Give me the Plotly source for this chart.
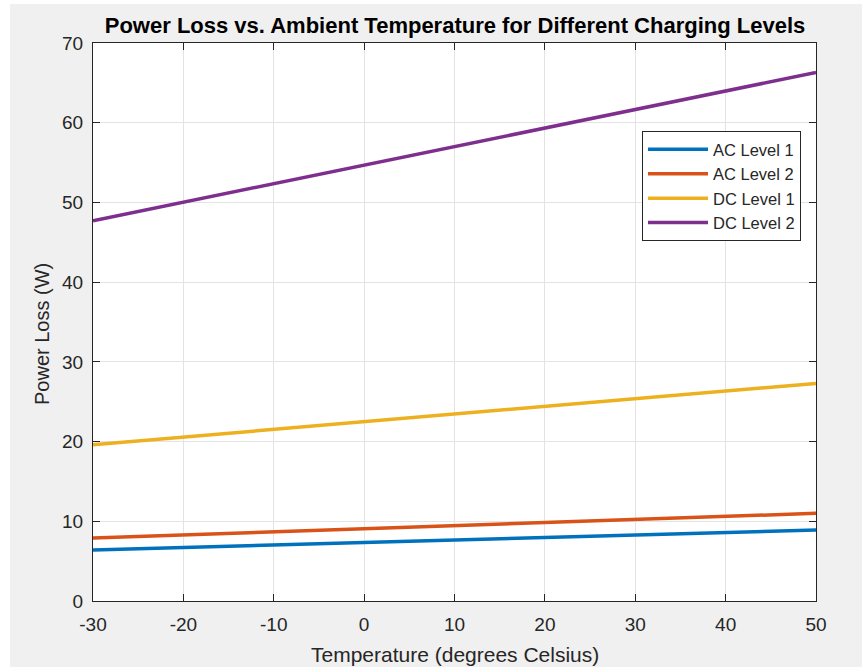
import plotly.graph_objects as go

# Ambient temperature range (degrees Celsius)
temperature = [-30, 50]

# Power loss (W) at each end of the temperature range
ac_level_1 = [6.4, 8.9]
ac_level_2 = [7.9, 11.0]
dc_level_1 = [19.6, 27.3]
dc_level_2 = [47.7, 66.3]

series_names = ["AC Level 1", "AC Level 2", "DC Level 1", "DC Level 2"]
series_values = [ac_level_1, ac_level_2, dc_level_1, dc_level_2]
series_colors = ["#0072BD", "#D95319", "#EDB120", "#7E2F8E"]

x_ticks = [-30, -20, -10, 0, 10, 20, 30, 40, 50]
x_tick_labels = ["-30", "-20", "-10", "0", "10", "20", "30", "40", "50"]
y_ticks = [0, 10, 20, 30, 40, 50, 60, 70]

FONT = "Liberation Sans, Arial, Helvetica, sans-serif"
INK = "#262626"

# plot area in pixels
L, R, T, B = 93, 816, 43, 601
W, H = 862, 667
PW, PH = R - L, B - T

fig = go.Figure()
for name, vals, col in zip(series_names, series_values, series_colors):
    fig.add_trace(go.Scatter(x=temperature, y=vals, mode="lines", name=name,
                             line=dict(color=col, width=3.5)))

axis_common = dict(
    showline=True, linecolor=INK, linewidth=1, mirror="ticks",
    ticks="inside", ticklen=7, tickcolor=INK, tickwidth=1,
    showgrid=True, gridcolor="#e3e3e3", gridwidth=1,
    zeroline=False, tickfont=dict(family=FONT, size=19, color=INK),
    automargin=False,
)

fig.update_xaxes(range=[-30, 50], tickvals=x_ticks, ticktext=x_tick_labels,
                 ticklabelstandoff=6, **axis_common)
fig.update_yaxes(range=[0, 70], tickvals=y_ticks,
                 ticklabelstandoff=5, **axis_common)

# axis titles
fig.add_annotation(text="Temperature (degrees Celsius)", xref="paper", yref="paper",
                   x=(455 - L) / PW, y=(B - 654) / PH, xanchor="center", yanchor="middle",
                   showarrow=False, font=dict(family=FONT, size=21, color=INK))
fig.add_annotation(text="Power Loss (W)", xref="paper", yref="paper",
                   x=(42 - L) / PW, y=(B - 334) / PH, xanchor="center", yanchor="middle",
                   textangle=-90, showarrow=False, font=dict(family=FONT, size=20, color=INK))

# thin white strips along the left and top edges of the figure
shape_common = dict(type="rect", xref="paper", yref="paper", fillcolor="white",
                    line=dict(width=0), layer="above")
fig.add_shape(x0=-L / PW, x1=(10 - L) / PW, y0=(B - H) / PH, y1=B / PH, **shape_common)
fig.add_shape(x0=-L / PW, x1=(W - L) / PW, y0=(B - 4) / PH, y1=B / PH, **shape_common)

fig.update_layout(
    width=W, height=H,
    margin=dict(l=L, r=W - R, t=T, b=H - B),
    paper_bgcolor="#f0f0f0", plot_bgcolor="white",
    title=dict(text="<b>Power Loss vs. Ambient Temperature for Different Charging Levels</b>",
               x=455 / W, xanchor="center", y=1 - 25 / H, yanchor="middle",
               font=dict(family=FONT, size=22, color="black")),
    legend=dict(x=(801 - L) / PW, xanchor="right", y=(B - 131) / PH, yanchor="top",
                bgcolor="white", bordercolor=INK, borderwidth=1,
                font=dict(family=FONT, size=16.5, color=INK),
                tracegroupgap=0, itemwidth=60),
    showlegend=True,
)

fig.write_html("out.html")
